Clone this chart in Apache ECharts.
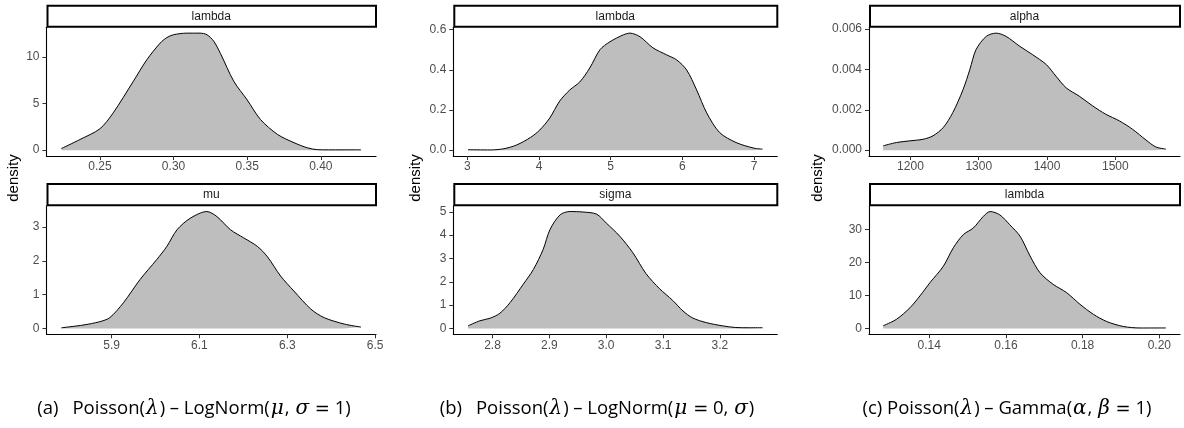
<!DOCTYPE html>
<html>
<head>
<meta charset="utf-8">
<script src="https://cdn.jsdelivr.net/npm/echarts@6/dist/echarts.min.js"></script>
<style>
  html, body { margin: 0; padding: 0; background: #ffffff; }
  #chart { width: 1184px; height: 428px; }
</style>
</head>
<body>
<div id="chart"></div>
<script>
// ---------- data ----------
// (a) Poisson(lambda) - LogNorm(mu, sigma = 1)
const aLambdaX = [0.2239,0.2364,0.2500,0.2590,0.2727,0.2818,0.2909,0.2955,0.3000,0.3090,0.3180,0.3227,0.3273,0.3318,0.3409,0.3500,0.3590,0.3705,0.3818,0.3909,0.3977,0.4050,0.4150,0.4273];
const aLambdaY = [0.18,1.14,2.3,4.0,7.4,9.7,11.5,12.1,12.4,12.57,12.57,12.4,11.7,10.4,7.4,5.4,3.3,1.7,0.8,0.25,0.05,0.03,0.03,0.03];
const aLambdaXTicks = ['0.25','0.30','0.35','0.40'];
const aLambdaYTicks = ['0','5','10'];

const muX = [5.786,5.835,5.873,5.896,5.927,5.965,6.003,6.026,6.049,6.079,6.117,6.140,6.171,6.201,6.232,6.255,6.285,6.315,6.354,6.384,6.430,6.468];
const muY = [0.02,0.10,0.20,0.32,0.76,1.45,2.04,2.43,2.92,3.26,3.46,3.31,2.92,2.68,2.43,2.12,1.55,1.11,0.57,0.32,0.13,0.04];
const muXTicks = ['5.9','6.1','6.3','6.5'];
const muYTicks = ['0','1','2','3'];

// (b) Poisson(lambda) - LogNorm(mu = 0, sigma)
const bLambdaX = [3.01,3.32,3.51,3.69,3.88,4.01,4.15,4.29,4.43,4.57,4.71,4.85,4.99,5.18,5.27,5.41,5.59,5.78,5.92,6.06,6.20,6.34,6.52,6.75,7.00,7.12];
const bLambdaY = [0.002,0.001,0.007,0.026,0.063,0.100,0.160,0.245,0.300,0.340,0.410,0.500,0.540,0.575,0.583,0.565,0.510,0.475,0.450,0.400,0.300,0.186,0.088,0.038,0.010,0.005];
const bLambdaXTicks = ['3','4','5','6','7'];
const bLambdaYTicks = ['0.0','0.2','0.4','0.6'];

const sigmaX = [2.757,2.778,2.796,2.813,2.831,2.854,2.872,2.889,2.901,2.919,2.936,2.959,2.983,3.000,3.024,3.047,3.070,3.094,3.117,3.135,3.152,3.176,3.205,3.228,3.252,3.275];
const sigmaY = [0.11,0.33,0.44,0.65,1.11,1.89,2.53,3.38,4.23,4.87,5.01,4.99,4.90,4.52,3.95,3.24,2.35,1.70,1.20,0.75,0.45,0.25,0.11,0.04,0.03,0.03];
const sigmaXTicks = ['2.8','2.9','3.0','3.1','3.2'];
const sigmaYTicks = ['0','1','2','3','4','5'];

// (c) Poisson(lambda) - Gamma(alpha, beta = 1)
const alphaX = [1160,1179.5,1199,1218.5,1233,1248,1262,1277,1287,1296,1311,1325.6,1340,1360,1379,1399,1413,1428,1447,1467,1486,1506,1525,1545,1559,1574];
const alphaY = [0.000214,0.000378,0.00046,0.00054,0.00071,0.00112,0.00186,0.0030,0.0040,0.00498,0.00564,0.0058,0.00564,0.00515,0.00473,0.00424,0.00367,0.00309,0.00268,0.00219,0.00178,0.00145,0.00104,0.00050,0.000164,0.00005];
const alphaXTicks = ['1200','1300','1400','1500'];
const alphaYTicks = ['0.000','0.002','0.004','0.006'];

const cLambdaX = [0.1280,0.1315,0.1350,0.1376,0.1402,0.1437,0.1463,0.1489,0.1515,0.1541,0.1559,0.1584,0.1610,0.1637,0.1663,0.1689,0.1723,0.1758,0.1793,0.1828,0.1863,0.1906,0.1950,0.2017];
const cLambdaY = [0.8,2.8,6.3,9.9,13.9,18.9,24.5,28.5,30.5,34.0,35.5,34.5,31.5,28.0,22.0,16.9,13.4,10.9,7.35,4.3,2.1,0.6,0.15,0.15];
const cLambdaXTicks = ['0.14','0.16','0.18','0.20'];
const cLambdaYTicks = ['0','10','20','30'];

const stripLabels = ['lambda','mu','lambda','sigma','alpha','lambda'];
const yTitle = 'density';

// ---------- layout ----------
const COLS = [[46.5, 376], [453.3, 777.3], [869, 1180]];
const ROWS = [[27.3, 156], [205.7, 334.3]];
const STRIP_H = 22.6;

const panels = [
  { col: 0, row: 0, xs: aLambdaX, ys: aLambdaY, xt: aLambdaXTicks, yt: aLambdaYTicks },
  { col: 0, row: 1, xs: muX, ys: muY, xt: muXTicks, yt: muYTicks },
  { col: 1, row: 0, xs: bLambdaX, ys: bLambdaY, xt: bLambdaXTicks, yt: bLambdaYTicks },
  { col: 1, row: 1, xs: sigmaX, ys: sigmaY, xt: sigmaXTicks, yt: sigmaYTicks },
  { col: 2, row: 0, xs: alphaX, ys: alphaY, xt: alphaXTicks, yt: alphaYTicks },
  { col: 2, row: 1, xs: cLambdaX, ys: cLambdaY, xt: cLambdaXTicks, yt: cLambdaYTicks }
];

const TICK_FONT = 'Liberation Sans';
const grids = [], xAxes = [], yAxes = [], series = [], graphics = [];

function labelFormatter(labels) {
  const nums = labels.map(Number);
  return function (v) {
    let best = 0, bd = Infinity;
    nums.forEach((n, i) => { const d = Math.abs(n - v); if (d < bd) { bd = d; best = i; } });
    return labels[best];
  };
}

panels.forEach((p, i) => {
  const [l, r] = COLS[p.col];
  const [t, b] = ROWS[p.row];
  grids.push({ left: l, top: t, width: r - l, height: b - t, containLabel: false, outerBoundsMode: 'none' });
  const xmin = Math.min(...p.xs), xmax = Math.max(...p.xs), xr = xmax - xmin;
  const ymax = Math.max(...p.ys);
  xAxes.push({
    type: 'value', gridIndex: i,
    min: xmin - 0.05 * xr, max: xmax + 0.05 * xr,
    axisLine: { show: true, onZero: false, lineStyle: { color: '#000', width: 1.1 } },
    axisTick: { show: true, length: 4, customValues: p.xt.map(Number), lineStyle: { color: '#333', width: 1 } },
    axisLabel: { show: true, customValues: p.xt.map(Number), formatter: labelFormatter(p.xt), margin: 5,
                 color: '#4D4D4D', fontSize: 12, fontFamily: TICK_FONT, hideOverlap: false },
    splitLine: { show: false }
  });
  yAxes.push({
    type: 'value', gridIndex: i,
    min: -0.05 * ymax, max: 1.05 * ymax,
    axisLine: { show: true, onZero: false, lineStyle: { color: '#000', width: 1.1 } },
    axisTick: { show: true, length: 4, customValues: p.yt.map(Number), lineStyle: { color: '#333', width: 1 } },
    axisLabel: { show: true, customValues: p.yt.map(Number), formatter: labelFormatter(p.yt), margin: 7,
                 color: '#4D4D4D', fontSize: 12, fontFamily: TICK_FONT, hideOverlap: false },
    splitLine: { show: false }
  });
  series.push({
    type: 'line', xAxisIndex: i, yAxisIndex: i,
    data: p.xs.map((x, k) => [x, p.ys[k]]),
    smooth: 0.3, showSymbol: false, symbol: 'none',
    lineStyle: { color: '#000', width: 1 },
    areaStyle: { color: '#BEBEBE', opacity: 1, origin: 0 },
    silent: true
  });
  // strip
  graphics.push({
    type: 'rect', silent: true,
    shape: { x: l + 1, y: t - STRIP_H + 1, width: r - l - 1, height: STRIP_H - 1.5 },
    style: { fill: '#fff', stroke: '#000', lineWidth: 2 }
  });
  graphics.push({
    type: 'text', silent: true,
    x: (l + r) / 2, y: t - STRIP_H / 2 + 0.5,
    style: { text: stripLabels[i], fill: '#1A1A1A', font: '12px "Liberation Sans"', align: 'center', verticalAlign: 'middle' }
  });
});

// y-axis titles
[14, 416, 818].forEach(x => {
  graphics.push({
    type: 'text', silent: true, x: x, y: 178, rotation: Math.PI / 2,
    style: { text: yTitle, fill: '#000', font: '15px "Liberation Sans"', align: 'center', verticalAlign: 'middle' }
  });
});

// captions
const rich = {
  n: { fontFamily: 'Open Sans', fontSize: 18.5, color: '#111' },
  g: { fontFamily: 'DejaVu Serif', fontStyle: 'italic', fontSize: 20, color: '#111', padding: [0, 1] },
  e: { fontFamily: 'DejaVu Sans', fontSize: 18, color: '#222' }
};
const captions = [
  { x: 194, text: '{n|(a)\u2002 Poisson(}{g|λ}{n|)\u2005– LogNorm(}{g|μ}{n|, }{g|σ}{n| }{e|=}{n| 1)}' },
  { x: 597, text: '{n|(b)\u2002 Poisson(}{g|λ}{n|)\u2005– LogNorm(}{g|μ}{n| }{e|=}{n| 0, }{g|σ}{n|)}' },
  { x: 1007, text: '{n|(c) Poisson(}{g|λ}{n|)\u2005– Gamma(}{g|α}{n|, }{g|β}{n| }{e|=}{n| 1)}' }
];
captions.forEach(c => {
  graphics.push({
    type: 'text', silent: true, x: c.x, y: 409,
    style: { text: c.text, rich: rich, align: 'center', verticalAlign: 'middle' }
  });
});

const chart = echarts.init(document.getElementById('chart'), null, { renderer: 'canvas' });
chart.setOption({
  animation: false,
  backgroundColor: '#ffffff',
  grid: grids,
  xAxis: xAxes,
  yAxis: yAxes,
  series: series,
  graphic: graphics
});
</script>
</body>
</html>
